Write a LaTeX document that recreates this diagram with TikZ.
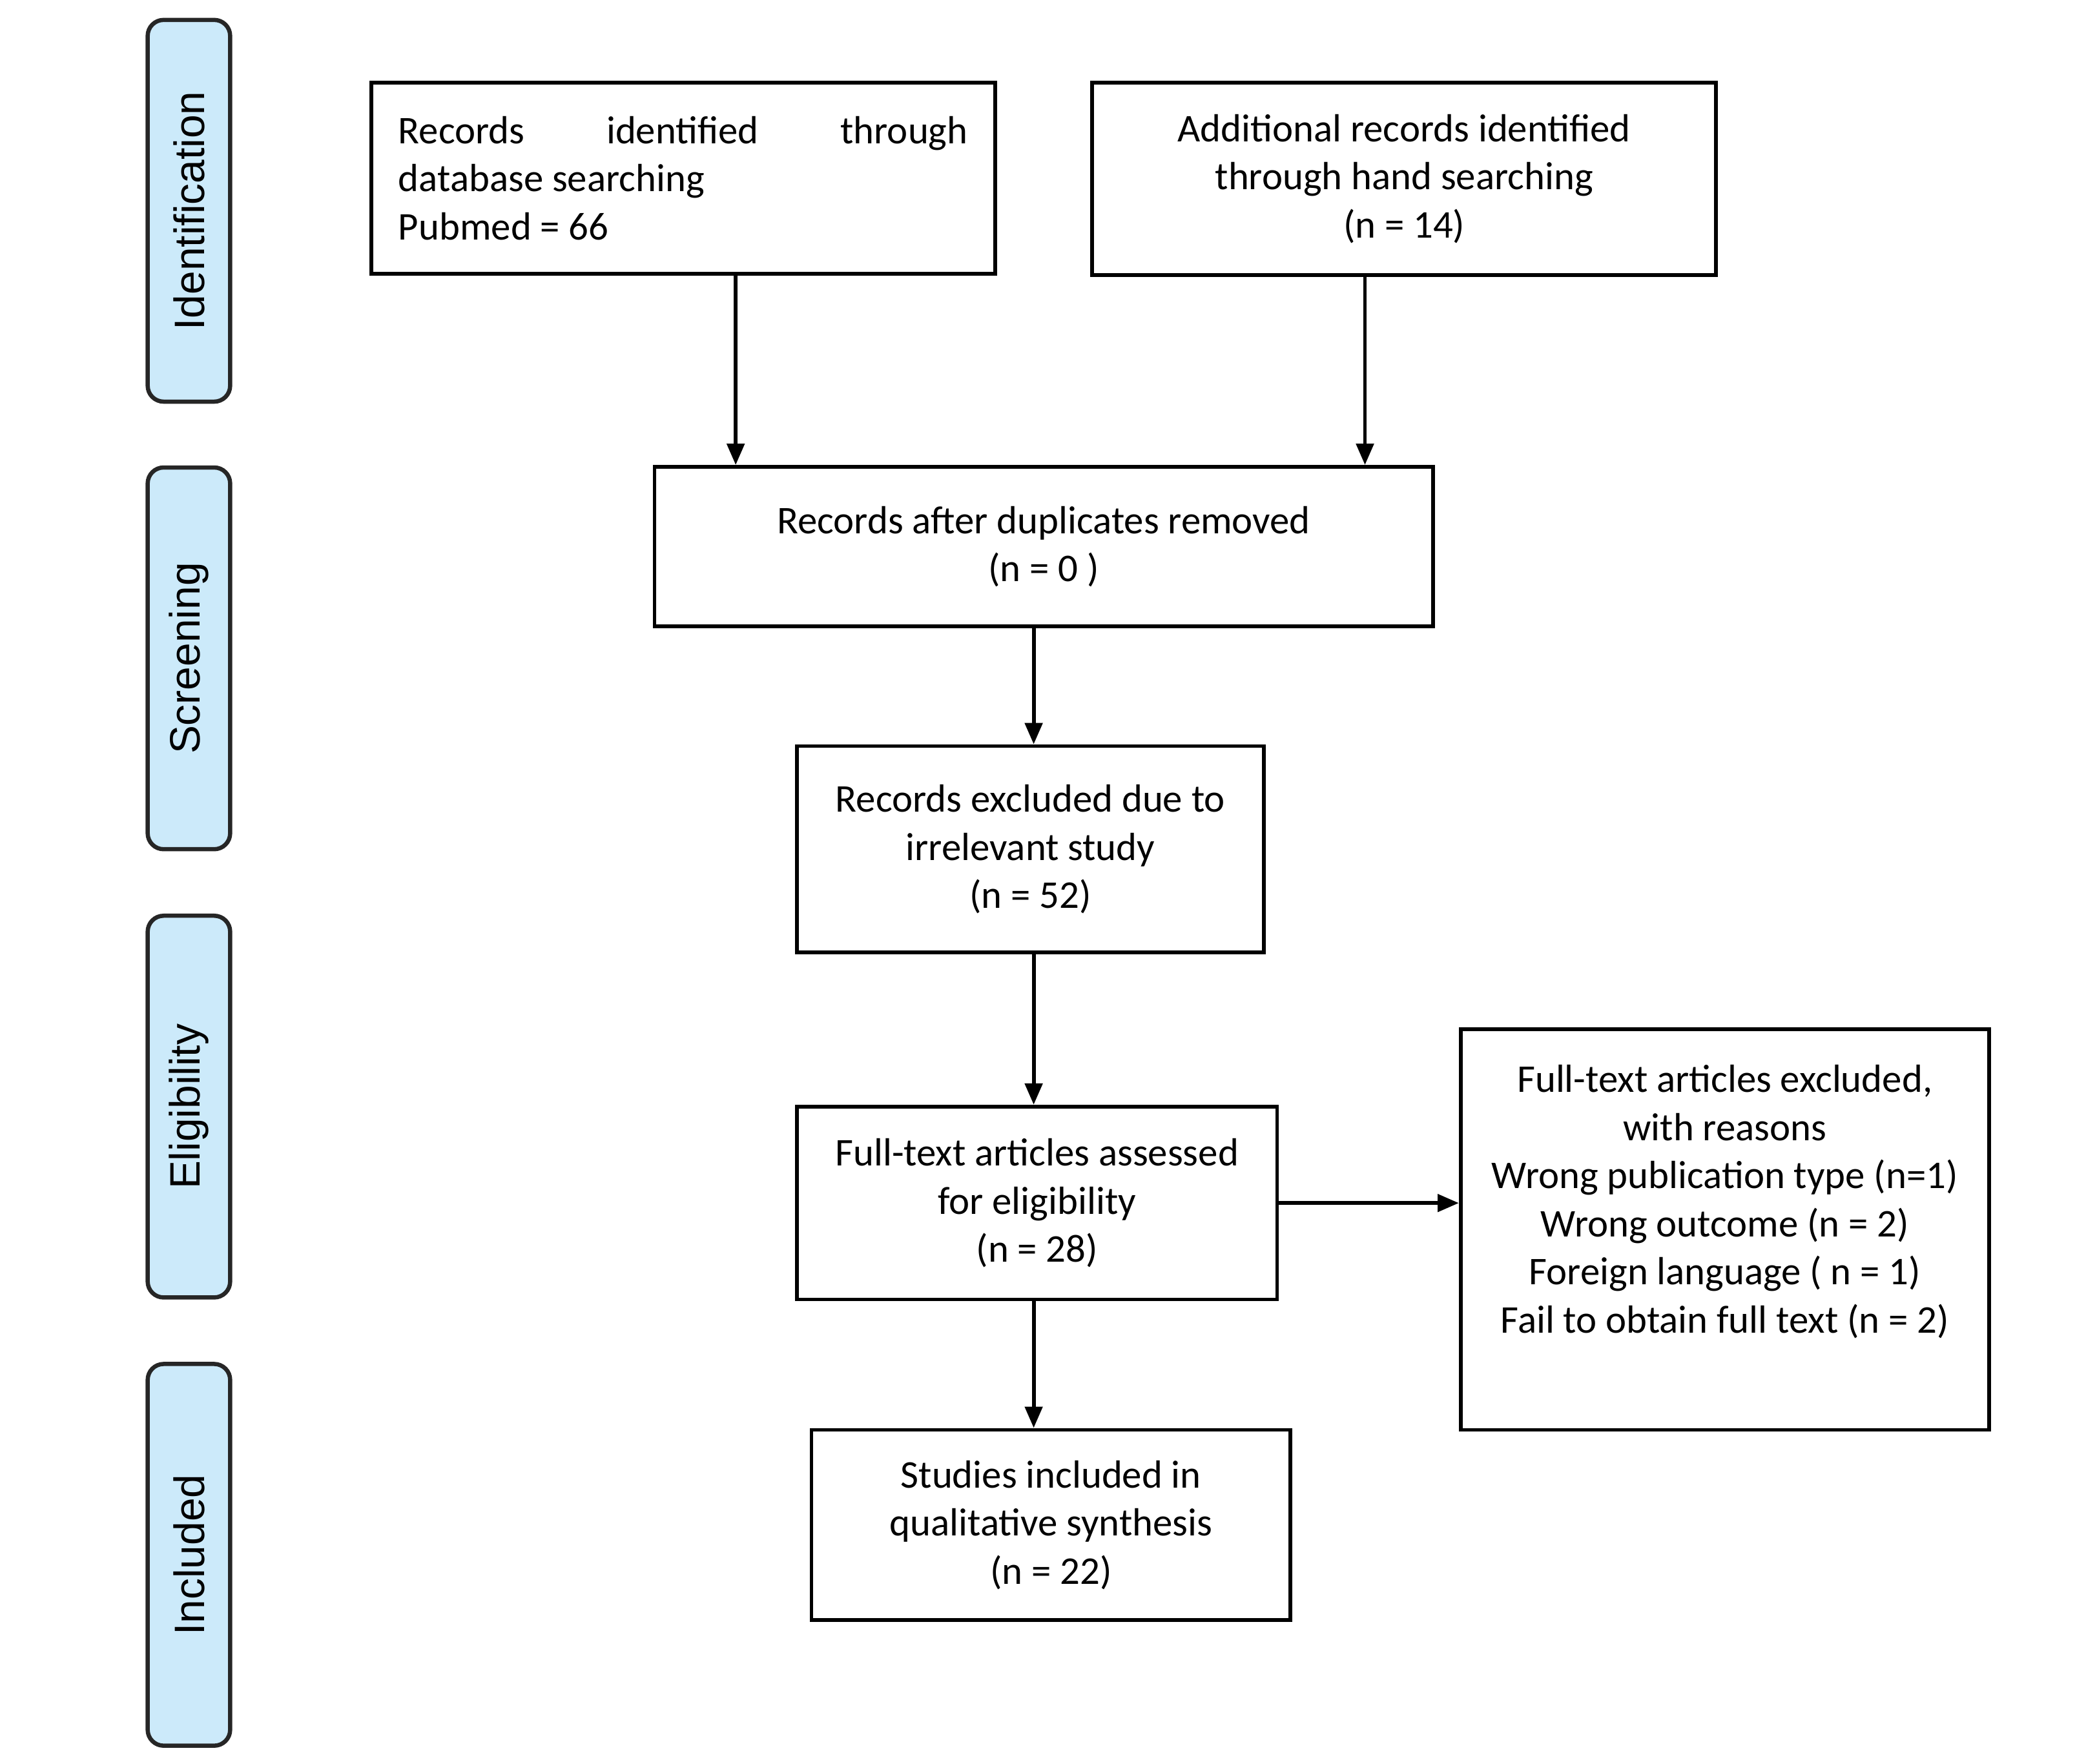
\documentclass[tikz,border=0pt]{standalone}
\usepackage{fontspec}
\setmainfont{Carlito}
\newfontfamily\phasefont{Liberation Sans}
\usetikzlibrary{arrows.meta}
\definecolor{phaseblue}{RGB}{204,234,250}

\begin{document}
\begin{tikzpicture}[
  box/.style={draw, line width=0.8pt, align=center, inner sep=0pt,
    font=\fontsize{8.4}{10.3}\selectfont},
  phase/.style={draw=black!85, line width=0.9pt, rounded corners=0.12cm, fill=phaseblue,
    rotate=90, minimum width=2.87cm, minimum height=0.62cm, inner sep=0pt,
    font=\phasefont\fontsize{9.1}{10}\selectfont},
  arr/.style={-{Triangle[length=1.6mm, width=1.3mm]}, line width=0.8pt}
]
  \useasboundingbox (0, 0) rectangle (15.68, 13.26);

  % phase labels on the left
  \node[phase] (ident) at (1.42, 11.675) {Identification};
  \node[phase] (screen) at (1.42, 8.31) {Screening};
  \node[phase] (elig) at (1.42, 4.94) {Eligibility};
  \node[phase] (inclp) at (1.42, 1.57) {Included};

  % identification
  \node[box, align=flush left, text width=4.28cm, inner xsep=0.205cm, minimum height=1.44cm] (db) at (5.135, 11.92)
    {Records\hfill identified\hfill through\\database searching\\Pubmed = 66};
  \node[box, minimum width=4.69cm, minimum height=1.45cm] (hand) at (10.555, 11.915)
    {Additional records identified\\through hand searching\\(n = 14)};

  % screening
  \node[box, minimum width=5.85cm, minimum height=1.20cm] (dup) at (7.845, 9.15)
    {Records after duplicates removed\\(n = 0 )};
  \node[box, minimum width=3.51cm, minimum height=1.55cm] (irr) at (7.745, 6.875)
    {Records excluded due to\\irrelevant study\\(n = 52)};

  % eligibility
  \node[box, minimum width=3.61cm, minimum height=1.45cm] (full) at (7.795, 4.215)
    {Full-text articles assessed\\for eligibility\\(n = 28)};
  \node[box, minimum width=3.97cm, minimum height=3.01cm] (excl) at (12.965, 4.015)
    {Full-text articles excluded,\\with reasons\\Wrong publication type (n=1)\\Wrong outcome (n = 2)\\Foreign language ( n = 1)\\Fail to obtain full text (n = 2)\\[0.1cm] \mbox{}};

  % included
  \node[box, minimum width=3.60cm, minimum height=1.43cm] (incl) at (7.90, 1.795)
    {Studies included in\\qualitative synthesis\\(n = 22)};

  % arrows
  \draw[arr] ([xshift=0.395cm]db.south) -- ([xshift=0.395cm]db.south |- dup.north);
  \draw[arr] ([xshift=-0.295cm]hand.south) -- ([xshift=-0.295cm]hand.south |- dup.north);
  \draw[arr] ([xshift=-0.075cm]dup.south) -- ([xshift=-0.075cm]dup.south |- irr.north);
  \draw[arr] ([xshift=0.025cm]irr.south) -- ([xshift=0.025cm]irr.south |- full.north);
  \draw[arr] ([xshift=-0.025cm]full.south) -- ([xshift=-0.025cm]full.south |- incl.north);
  \draw[arr] (full.east) -- (full.east -| excl.west);
\end{tikzpicture}
\end{document}
